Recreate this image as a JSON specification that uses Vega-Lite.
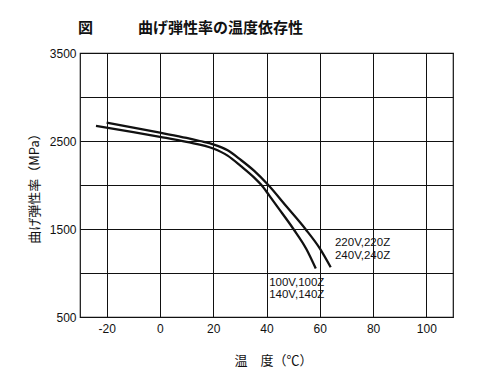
{
  "$schema": "https://vega.github.io/schema/vega-lite/v6.json",
  "width": 373,
  "height": 264,
  "autosize": {"type": "none"},
  "padding": {"left": 80, "top": 53, "right": 47, "bottom": 61},
  "background": "white",
  "title": {
    "text": "図　　　曲げ弾性率の温度依存性",
    "anchor": "start",
    "frame": "group",
    "offset": 11,
    "dx": -2,
    "font": "Noto Sans CJK JP",
    "fontSize": 15,
    "fontWeight": "bold",
    "color": "#111"
  },
  "config": {
    "view": {"stroke": "#111", "strokeWidth": 1.2},
    "axis": {
      "labelFont": "Liberation Sans",
      "labelFontSize": 12,
      "labelColor": "#111",
      "titleFont": "Noto Sans CJK JP",
      "titleFontSize": 13,
      "titleFontWeight": "normal",
      "titleColor": "#111",
      "gridColor": "#111",
      "gridOpacity": 1,
      "gridWidth": 1,
      "domain": false,
      "ticks": false
    }
  },
  "datasets": {
    "curves": [
      {"series": "220V", "temp": -20, "modulus": 2708},
      {"series": "220V", "temp": -10, "modulus": 2652},
      {"series": "220V", "temp": 0, "modulus": 2594},
      {"series": "220V", "temp": 10, "modulus": 2535},
      {"series": "220V", "temp": 15, "modulus": 2500},
      {"series": "220V", "temp": 20, "modulus": 2462},
      {"series": "220V", "temp": 25.4, "modulus": 2394},
      {"series": "220V", "temp": 30.4, "modulus": 2284},
      {"series": "220V", "temp": 35.4, "modulus": 2160},
      {"series": "220V", "temp": 40.5, "modulus": 2005},
      {"series": "220V", "temp": 47.6, "modulus": 1752},
      {"series": "220V", "temp": 54.6, "modulus": 1500},
      {"series": "220V", "temp": 60, "modulus": 1280},
      {"series": "220V", "temp": 64.1, "modulus": 1065},
      {"series": "100V", "temp": -24, "modulus": 2672},
      {"series": "100V", "temp": -10, "modulus": 2602},
      {"series": "100V", "temp": 0, "modulus": 2548},
      {"series": "100V", "temp": 10, "modulus": 2490},
      {"series": "100V", "temp": 20, "modulus": 2415},
      {"series": "100V", "temp": 25.4, "modulus": 2334},
      {"series": "100V", "temp": 30.4, "modulus": 2215},
      {"series": "100V", "temp": 35.4, "modulus": 2084},
      {"series": "100V", "temp": 38.1, "modulus": 2000},
      {"series": "100V", "temp": 41, "modulus": 1882},
      {"series": "100V", "temp": 44.2, "modulus": 1748},
      {"series": "100V", "temp": 50.1, "modulus": 1500},
      {"series": "100V", "temp": 55, "modulus": 1270},
      {"series": "100V", "temp": 58.5, "modulus": 1050}
    ],
    "labels": [
      {"temp": 65.7, "modulus": 1336, "label": "220V,220Z"},
      {"temp": 65.7, "modulus": 1198, "label": "240V,240Z"},
      {"temp": 41, "modulus": 887, "label": "100V,100Z"},
      {"temp": 41, "modulus": 749, "label": "140V,140Z"}
    ]
  },
  "encoding": {
    "x": {
      "field": "temp",
      "type": "quantitative",
      "scale": {"domain": [-30, 110], "nice": false, "zero": false},
      "axis": {
        "values": [-20, 0, 20, 40, 60, 80, 100],
        "labelExpr": "datum.value + ''",
        "title": "温　度（℃）",
        "titleX": 193,
        "titleAlign": "center",
        "titlePadding": 20,
        "labelPadding": 6
      }
    },
    "y": {
      "field": "modulus",
      "type": "quantitative",
      "scale": {"domain": [500, 3500], "nice": false, "zero": false},
      "axis": {
        "values": [500, 1000, 1500, 2000, 2500, 3000, 3500],
        "labelExpr": "(datum.value - 500) % 1000 == 0 ? datum.value + '' : ''",
        "title": "曲げ弾性率（MPa）",
        "titlePadding": 8,
        "labelPadding": 4
      }
    }
  },
  "layer": [
    {
      "data": {"name": "curves"},
      "mark": {"type": "line", "interpolate": "monotone", "color": "#111", "strokeWidth": 2.3},
      "encoding": {"detail": {"field": "series"}}
    },
    {
      "data": {"name": "labels"},
      "mark": {"type": "text", "align": "left", "baseline": "middle", "font": "Liberation Sans", "fontSize": 11.5, "color": "#111"},
      "encoding": {"text": {"field": "label"}}
    }
  ]
}
